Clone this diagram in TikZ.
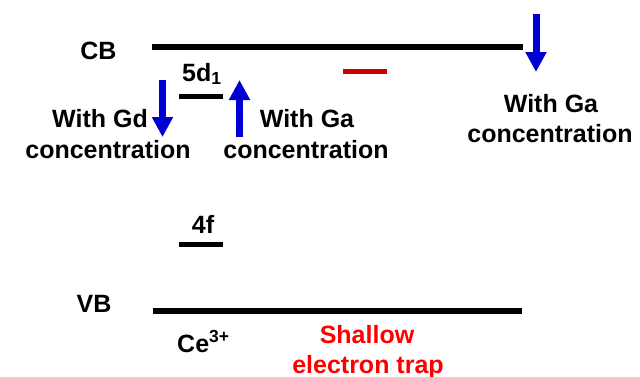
\documentclass[tikz,border=0pt]{standalone}
\usepackage{fontspec}
\setmainfont{Liberation Sans}
\usetikzlibrary{arrows.meta}
\definecolor{arrblue}{RGB}{0,0,210}
\definecolor{trapred}{RGB}{204,0,0}
\definecolor{txtred}{RGB}{255,0,0}
\tikzset{
  lbl/.style={inner sep=0pt, anchor=base, font=\fontsize{25}{30}\selectfont\bfseries},
  band/.style={line width=6pt},
  level/.style={line width=5pt},
  shiftarrow/.style={arrblue, line width=7pt, -{Triangle[width=20pt,length=20pt]}}
}
\begin{document}
\begin{tikzpicture}[x=1pt,y=-1pt]
\useasboundingbox (0,0) rectangle (640,376);
% bands
\coordinate (cbL) at (152,47); \coordinate (cbR) at (523,47);
\coordinate (vbL) at (153,310.5); \coordinate (vbR) at (522,310.5);
\draw[band] (cbL) -- (cbR);
\draw[band] (vbL) -- (vbR);
% levels
\coordinate (dL) at (179,96.5); \coordinate (dR) at (223,96.5);
\coordinate (fL) at (179,244.5); \coordinate (fR) at (223,244.5);
\coordinate (tL) at (343,71.5); \coordinate (tR) at (387,71.5);
\draw[level] (dL) -- (dR);
\draw[level] (fL) -- (fR);
\draw[level, trapred] (tL) -- (tR);
% labels
\node[lbl] (cb) at (98.5,59) {CB};
\node[lbl] (vb) at (94,312) {VB};
\node[lbl, anchor=base west] (d5) at (182,81) {5d\textsubscript{1}};
\node[lbl] (f4) at (203,233) {4f};
\node[lbl, anchor=base west] (ce) at (177,352) {Ce\textsuperscript{3+}};
\node[lbl] (gd1) at (100,127) {With Gd};
\node[lbl] (gd2) at (108,158) {concentration};
\node[lbl] (ga1) at (307,127) {With Ga};
\node[lbl] (ga2) at (306,158) {concentration};
\node[lbl] (gr1) at (551,112) {With Ga};
\node[lbl] (gr2) at (550,142) {concentration};
\node[lbl, txtred] (sh1) at (367,343) {Shallow};
\node[lbl, txtred] (sh2) at (368,373) {electron trap};
% arrows
\coordinate (a1s) at (162.5,80); \coordinate (a1e) at (162.5,137);
\coordinate (a2s) at (239.5,137); \coordinate (a2e) at (239.5,80);
\coordinate (a3s) at (536,14); \coordinate (a3e) at (536,72);
\draw[shiftarrow] (a1s) -- (a1e);
\draw[shiftarrow] (a2s) -- (a2e);
\draw[shiftarrow] (a3s) -- (a3e);
\end{tikzpicture}
\end{document}
